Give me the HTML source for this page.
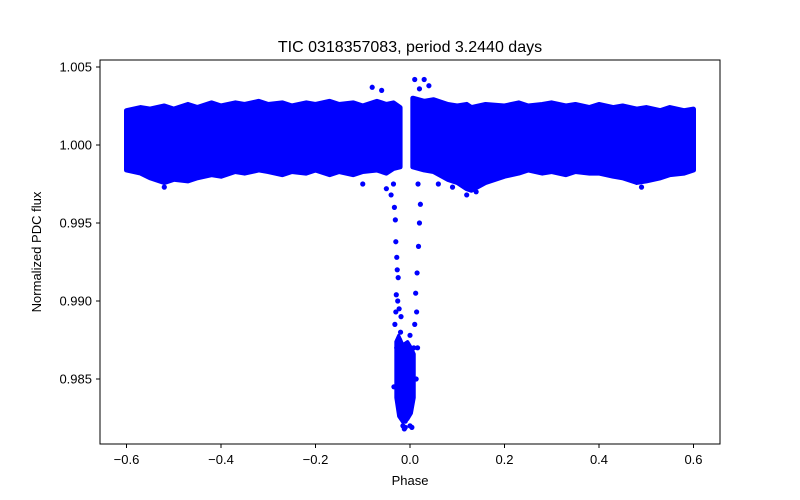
<!DOCTYPE html>
<html><head><meta charset="utf-8"><style>
body{margin:0;background:#fff;}
svg{display:block;font-family:"Liberation Sans","DejaVu Sans",sans-serif;}
</style></head><body>
<svg id="chart" width="800" height="500" viewBox="0 0 800 500">
<rect x="0" y="0" width="800" height="500" fill="#fff"/>
<text x="410" y="52" text-anchor="middle" font-size="16">TIC 0318357083, period 3.2440 days</text>
<g id="plot"></g>
<rect x="100" y="60" width="620" height="384" fill="none" stroke="#000" stroke-width="1"/>
<g id="xaxis"></g>
<g id="yaxis"></g>
<text x="410" y="485" text-anchor="middle" font-size="13">Phase</text>
<text x="0" y="0" transform="translate(41,252) rotate(-90)" text-anchor="middle" font-size="13">Normalized PDC flux</text>
</svg>
<script>
const leftPhase=[-0.60,-0.57,-0.55,-0.52,-0.50,-0.47,-0.45,-0.42,-0.40,-0.37,-0.35,-0.32,-0.30,-0.27,-0.25,-0.22,-0.20,-0.17,-0.15,-0.12,-0.10,-0.07,-0.05,-0.035,-0.021];
const leftLow=[0.9984,0.9982,0.9979,0.9976,0.9978,0.9977,0.9979,0.9981,0.9980,0.9983,0.9982,0.9984,0.9983,0.9981,0.9983,0.9982,0.9984,0.9981,0.9983,0.9981,0.9983,0.9984,0.9982,0.9985,0.9986];
const leftHigh=[1.0022,1.0024,1.0023,1.0025,1.0023,1.0026,1.0024,1.0027,1.0025,1.0027,1.0026,1.0028,1.0026,1.0027,1.0025,1.0027,1.0026,1.0028,1.0026,1.0027,1.0025,1.0028,1.0026,1.0027,1.0024];
const rightPhase=[0.006,0.03,0.05,0.08,0.10,0.12,0.13,0.16,0.20,0.23,0.25,0.28,0.30,0.33,0.35,0.38,0.40,0.43,0.45,0.48,0.50,0.53,0.55,0.58,0.60];
const rightLow=[0.9986,0.9984,0.9983,0.9978,0.9976,0.9972,0.9971,0.9976,0.9980,0.9982,0.9984,0.9982,0.9983,0.9981,0.9983,0.9982,0.9982,0.9980,0.9979,0.9976,0.9977,0.9979,0.9981,0.9982,0.9984];
const rightHigh=[1.0030,1.0028,1.0029,1.0026,1.0025,1.0026,1.0024,1.0026,1.0025,1.0027,1.0025,1.0026,1.0027,1.0025,1.0026,1.0024,1.0026,1.0024,1.0025,1.0023,1.0024,1.0022,1.0024,1.0022,1.0023];
const transitPhase=[-0.030,-0.024,-0.015,-0.005,0.003,0.009];
const transitLow=[0.9838,0.9826,0.9822,0.9824,0.9828,0.9838];
const transitHigh=[0.9874,0.9878,0.9872,0.9874,0.9870,0.9866];
const pointPhase=[-0.035,-0.033,-0.031,-0.030,-0.028,-0.025,-0.027,-0.030,-0.032,-0.028,-0.022,-0.020,-0.018,-0.015,-0.012,-0.010,0.008,0.010,0.012,0.015,0.018,0.020,0.022,0.017,-0.029,-0.026,0.014,0.016,-0.023,-0.019,-0.01,0.0,0.004,-0.08,-0.06,0.010,0.030,0.040,0.020,-0.10,-0.05,-0.04,0.06,0.12,0.09,0.14,-0.52,0.49,-0.034,0.013,-0.02,0.0];
const pointFlux=[0.9975,0.9960,0.9952,0.9938,0.9928,0.9915,0.9920,0.9893,0.9885,0.9870,0.9875,0.9850,0.9830,0.9820,0.9818,0.9819,0.9870,0.9885,0.9905,0.9918,0.9935,0.9950,0.9962,0.9975,0.9904,0.9900,0.9893,0.9870,0.9895,0.9890,0.9823,0.9820,0.9819,1.0037,1.0035,1.0042,1.0042,1.0038,1.0036,0.9975,0.9972,0.9968,0.9975,0.9968,0.9973,0.9970,0.9973,0.9973,0.9845,0.9850,0.9880,0.9878];
const xTicks=[-0.6,-0.4,-0.2,0.0,0.2,0.4,0.6];
const xTickLabels=["\u22120.6","\u22120.4","\u22120.2","0.0","0.2","0.4","0.6"];
const yTicks=[0.985,0.990,0.995,1.000,1.005];
const yTickLabels=["0.985","0.990","0.995","1.000","1.005"];

const NS="http://www.w3.org/2000/svg";
function xs(v){return 410+v*472.5;}
function ys(v){return 145-(v-1.0)*15600;}
const plot=document.getElementById('plot');
function band(ph,lo,hi,name,sw){
  let pts=[];
  for(let i=0;i<ph.length;i++)pts.push(xs(ph[i])+','+ys(hi[i]));
  for(let i=ph.length-1;i>=0;i--)pts.push(xs(ph[i])+','+ys(lo[i]));
  const p=document.createElementNS(NS,'polygon');
  p.setAttribute('points',pts.join(' '));
  p.setAttribute('fill','#0000ff');
  p.setAttribute('stroke','#0000ff');
  p.setAttribute('stroke-width',sw);
  p.setAttribute('stroke-linejoin','round');
  
  
  plot.appendChild(p);
}
band(leftPhase,leftLow,leftHigh,'left-flux-band','5');
band(rightPhase,rightLow,rightHigh,'right-flux-band','5');
band(transitPhase,transitLow,transitHigh,'transit-core','3');
for(let i=0;i<pointPhase.length;i++){
  const c=document.createElementNS(NS,'circle');
  c.setAttribute('cx',xs(pointPhase[i]));
  c.setAttribute('cy',ys(pointFlux[i]));
  c.setAttribute('r','2.6');
  c.setAttribute('fill','#0000ff');
  
  
  plot.appendChild(c);
}
const xa=document.getElementById('xaxis');
xTicks.forEach((t,i)=>{
  const l=document.createElementNS(NS,'line');
  l.setAttribute('x1',xs(t));l.setAttribute('x2',xs(t));
  l.setAttribute('y1',444);l.setAttribute('y2',448);
  l.setAttribute('stroke','#000');
  
  
  xa.appendChild(l);
  const tx=document.createElementNS(NS,'text');
  tx.setAttribute('x',xs(t));tx.setAttribute('y',464);
  tx.setAttribute('text-anchor','middle');tx.setAttribute('font-size','13');
  tx.textContent=xTickLabels[i];
  
  
  xa.appendChild(tx);
});
const ya=document.getElementById('yaxis');
yTicks.forEach((t,i)=>{
  const l=document.createElementNS(NS,'line');
  l.setAttribute('x1',96);l.setAttribute('x2',100);
  l.setAttribute('y1',ys(t));l.setAttribute('y2',ys(t));
  l.setAttribute('stroke','#000');
  
  
  ya.appendChild(l);
  const tx=document.createElementNS(NS,'text');
  tx.setAttribute('x',92);tx.setAttribute('y',ys(t)+4.5);
  tx.setAttribute('text-anchor','end');tx.setAttribute('font-size','13');
  tx.textContent=yTickLabels[i];
  
  
  ya.appendChild(tx);
});
</script>
</body></html>
